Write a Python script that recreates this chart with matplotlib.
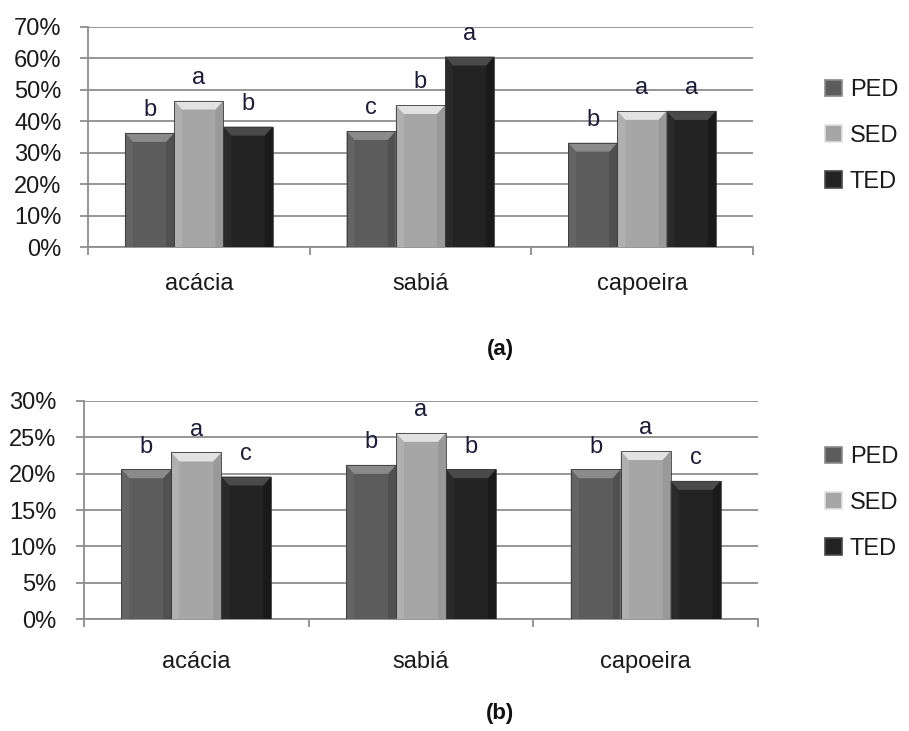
import matplotlib
matplotlib.use("Agg")
import matplotlib.pyplot as plt
from matplotlib.patches import Polygon, Patch
from matplotlib.ticker import FuncFormatter, FixedLocator
import numpy as np

plt.rcParams['font.family'] = ['Liberation Sans', 'DejaVu Sans']

categories = ['acácia', 'sabiá', 'capoeira']
series = ['PED', 'SED', 'TED']

# panel (a)
a_PED = [36.3, 36.9, 33.2]
a_SED = [46.6, 45.2, 43.3]
a_TED = [38.3, 60.6, 43.3]
a_let_PED = ['b', 'c', 'b']
a_let_SED = ['a', 'b', 'a']
a_let_TED = ['b', 'a', 'a']

# panel (b)
b_PED = [20.6, 21.2, 20.6]
b_SED = [22.9, 25.6, 23.1]
b_TED = [19.6, 20.6, 19.0]
b_let_PED = ['b', 'b', 'b']
b_let_SED = ['a', 'a', 'a']
b_let_TED = ['c', 'b', 'c']

a_ticks = [0, 10, 20, 30, 40, 50, 60, 70]
b_ticks = [0, 5, 10, 15, 20, 25, 30]

face = {'PED': '#5c5c5c', 'SED': '#a6a6a6', 'TED': '#232323'}
topc = {'PED': '#8a8a8a', 'SED': '#e2e2e2', 'TED': '#4a4a4a'}
leftc = {'PED': '#646464', 'SED': '#b0b0b0', 'TED': '#2a2a2a'}
rightc = {'PED': '#505050', 'SED': '#999999', 'TED': '#1a1a1a'}
grid_c = '#8e8e8e'
txt_c = '#1a1a1a'
let_c = '#1c1c3a'

FS = 17

fig = plt.figure(figsize=(9.09, 7.31), dpi=100)


def panel(rect, vals, lets, ticks, cat_pad, tick_pad):
    ax = fig.add_axes(rect)
    n = len(vals)
    w = 1.0 / (n + 1.5)
    x = np.arange(len(categories))
    ax.set_xlim(-0.5, len(categories) - 0.5)
    ax.set_ylim(ticks[0], ticks[-1])
    for t in ticks:
        ax.axhline(t, color=grid_c, lw=1.3, zorder=1)
    pxx = (len(categories)) / ax.bbox.width
    pxy = (ticks[-1] - ticks[0]) / ax.bbox.height
    for i, (s, v, l) in enumerate(zip(series, vals, lets)):
        xs = x + (i - (n - 1) / 2) * w
        ax.bar(xs, v, width=w, color=face[s], edgecolor='none', zorder=3)
        for xc, h, lab in zip(xs, v, l):
            x0, x1 = xc - w / 2, xc + w / 2
            bx, by = 8 * pxx, 9 * pxy
            ax.add_patch(Polygon([(x0, 0), (x0, h), (x0 + bx, h - by), (x0 + bx, 0)],
                                 closed=True, facecolor=leftc[s], edgecolor='none', zorder=4))
            ax.add_patch(Polygon([(x1, 0), (x1, h), (x1 - bx, h - by), (x1 - bx, 0)],
                                 closed=True, facecolor=rightc[s], edgecolor='none', zorder=4))
            ax.add_patch(Polygon([(x0, h), (x1, h), (x1 - bx, h - by), (x0 + bx, h - by)],
                                 closed=True, facecolor=topc[s], edgecolor='none', zorder=5))
            ax.add_patch(Polygon([(x0, 0), (x0, h), (x1, h), (x1, 0)], closed=True,
                                 facecolor='none', edgecolor='#3a3a3a', lw=0.6, zorder=6))
            ax.annotate(lab, (xc, h), xytext=(0, 12), textcoords='offset points',
                        ha='center', va='baseline', fontsize=FS, color=let_c, zorder=7)
    for sp in ['top', 'right']:
        ax.spines[sp].set_visible(False)
    for sp in ['left', 'bottom']:
        ax.spines[sp].set_color(grid_c)
        ax.spines[sp].set_linewidth(1.3)
    ax.spines['bottom'].set_zorder(2)
    ax.set_yticks(ticks)
    ax.yaxis.set_major_formatter(FuncFormatter(lambda v, p: f'{int(round(v))}%'))
    ax.tick_params(axis='y', length=6, width=1.3, color=grid_c, labelsize=FS,
                   labelcolor=txt_c, pad=tick_pad)
    ax.set_xticks(x)
    ax.set_xticklabels(categories)
    ax.tick_params(axis='x', which='major', length=0, labelsize=FS, labelcolor=txt_c, pad=cat_pad)
    ax.xaxis.set_minor_locator(FixedLocator(np.arange(len(categories) + 1) - 0.5))
    ax.tick_params(axis='x', which='minor', length=6, width=1.3, color=grid_c)
    ax.set_axisbelow(True)
    return ax


ax1 = panel([0.0968, 0.6621, 0.7313, 0.301], [a_PED, a_SED, a_TED],
            [a_let_PED, a_let_SED, a_let_TED], a_ticks, 19, 13)
ax2 = panel([0.0924, 0.1528, 0.7415, 0.299], [b_PED, b_SED, b_TED],
            [b_let_PED, b_let_SED, b_let_TED], b_ticks, 23, 14)

handles = [Patch(facecolor=face[s], edgecolor=topc[s], lw=1.2, label=s) for s in series]
for yc in [0.814, 0.312]:
    fig.legend(handles=handles, loc='center left', bbox_to_anchor=(0.9076, yc),
               frameon=False, fontsize=FS, handlelength=0.7, handleheight=0.7,
               handletextpad=0.35, labelspacing=1.0, borderpad=0, borderaxespad=0,
               labelcolor=txt_c)

fig.text(500 / 909, 1 - 350 / 731, '(a)', ha='center', va='center', fontsize=16,
         fontweight='bold', color='#111111')
fig.text(500 / 909, 1 - 713 / 731, '(b)', ha='center', va='center', fontsize=16,
         fontweight='bold', color='#111111')

fig.savefig('out.png', dpi=100)
